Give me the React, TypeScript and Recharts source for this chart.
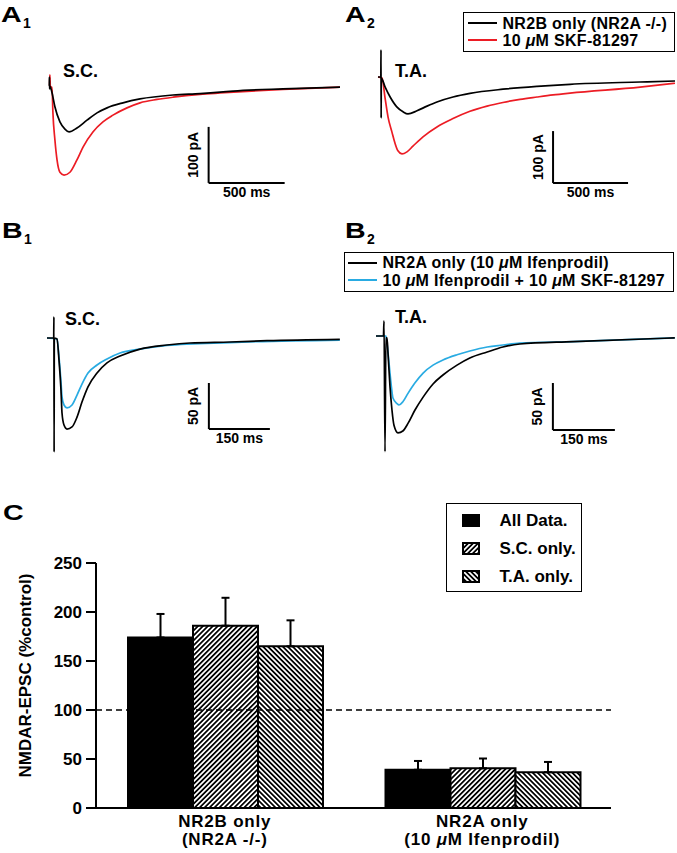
import React from 'react';
import { LineChart, Line, XAxis, YAxis, ReferenceLine, Legend, BarChart, Bar, ErrorBar } from 'recharts';

const FONT = '"Liberation Sans", Arial, Helvetica, sans-serif';
const RED = '#ec1c24';
const BLUE = '#29abe2';

// ---- traces: [time (ms), current (pA)] ----
const a1Black = [[0, 0], [2, 0], [3, 16], [4, -5], [6, 0], [20, -12], [39, -37], [72, -64], [105, -77], [132, -82], [184, -75], [250, -61], [316, -48], [382, -39], [487, -30], [599, -23], [816, -16], [993, -13.5], [1125, -11], [1211, -9], [1539, -5], [1914, -2]];
const a1Red = [[0, 0], [4, 0], [6, 20], [9, -2], [20, -2], [26, -48], [39, -96], [53, -132], [72, -154], [99, -159], [138, -154], [184, -132], [224, -109], [289, -82], [355, -64], [421, -52], [513, -39], [599, -30], [711, -24], [816, -20], [993, -15], [1125, -12.5], [1539, -6], [1914, -2]];

const a2Black = [[0, 0], [19, 0], [20, 52], [21, -79], [22, -2], [47, -19], [80, -38], [127, -58], [167, -67], [200, -71], [260, -65], [327, -56], [393, -48], [500, -38.5], [613, -31.5], [833, -23.5], [1060, -18], [1280, -14], [1747, -9.6], [1980, -7.7]];
const a2Red = [[0, 0], [27, -2], [47, -40], [67, -77], [93, -106], [113, -127], [133, -142], [160, -148], [193, -144], [233, -133], [300, -115], [393, -96], [500, -80], [613, -66], [727, -56], [833, -49], [947, -43], [1060, -38.5], [1167, -34.5], [1280, -31], [1747, -19.5], [1980, -12]];

const b1Black = [[0, 0], [16.5, 0], [17, 23], [17.5, -124], [18, 0], [24.6, -1], [29.5, -24], [34.4, -56.5], [36.9, -81.5], [41.8, -94.6], [49.2, -99], [61.5, -96.7], [73.8, -86], [86, -69.6], [100.8, -53], [123, -38], [147.5, -27], [179.5, -19.6], [228.7, -12], [295, -7.6], [351.6, -5.4], [450, -4.3], [541, -2.9], [720, -1.4]];
const b1Blue = [[0, 0], [24.6, -1], [29.5, -20.7], [34.4, -47.8], [36.9, -64], [41.8, -72.8], [49.2, -76], [61.5, -72.8], [73.8, -62], [86, -50], [100.8, -38], [123, -29.3], [147.5, -22.8], [179.5, -16.3], [228.7, -12], [295, -8], [450, -4.9], [720, -2.2]];

const b2Black = [[0, 0], [18, 0], [19.4, 16], [21.8, -123], [24, -2], [26.6, -2], [29, -18], [33.9, -54], [38.7, -79], [43.5, -95], [53.2, -103], [65, -101], [77.4, -93], [94, -79], [114, -65], [138, -51], [162, -41.5], [196, -31], [227, -23.4], [269, -17], [307, -11.7], [348, -8.5], [477, -6], [723, -2]];
const b2Blue = [[0, 0], [24, 0], [26.6, -7.5], [31.5, -28.7], [36.3, -50], [41, -66], [50.8, -72], [55.6, -73.4], [65, -70], [77.4, -61], [94, -50], [114, -39.4], [138, -31], [162, -25.5], [196, -20], [227, -16], [269, -11.7], [307, -9.6], [348, -7.5], [477, -5.9], [723, -2]];

const aNames = ['NR2B only (NR2A -/-)', '10 μM SKF-81297'];
const bNames = ['NR2A only (10 μM Ifenprodil)', '10 μM Ifenprodil + 10 μM SKF-81297'];

// ---- panel C: % of control, mean and SEM ----
const groupNames = ['NR2B only', 'NR2A only'];
const groupSub = ['(NR2A -/-)', '(10 μM Ifenprodil)'];
const allData = [174, 39];
const allSem = [24, 9];
const scData = [186, 40.5];
const scSem = [28.5, 10];
const taData = [165, 36.5];
const taSem = [26.5, 10.5];
const seriesNames = ['All Data.', 'S.C. only.', 'T.A. only.'];
const yTicks = [0, 50, 100, 150, 200, 250];

const barRows = groupNames.map((g, k) => ({
  group: g,
  all: allData[k],
  allErr: [0, allSem[k]],
  sc: scData[k],
  scErr: [0, scSem[k]],
  ta: taData[k],
  taErr: [0, taSem[k]],
}));

const rows = (pts: number[][]) => pts.map(([t, i]) => ({ t, i }));

function withMu(s: string) {
  const parts = s.split('μ');
  return parts.flatMap((p, k) => (k === 0 ? [p] : [<i key={k}>μ</i>, p]));
}

function svgMu(s: string) {
  const parts = s.split('μ');
  return parts.flatMap((p, k) => (k === 0 ? [p] : [<tspan key={k} fontStyle="italic">μ</tspan>, p]));
}

const vScaleLabel = (text: string) => (props: any) => {
  const vb = props.viewBox ?? {};
  const x = (vb.x ?? 0) - 10.5;
  const y = (vb.y ?? 0) + (vb.height ?? 0) / 2;
  return (
    <text x={x} y={y} transform={`rotate(-90 ${x} ${y})`} textAnchor="middle" fontFamily={FONT} fontSize={14} fontWeight="bold" fill="#000">
      {text}
    </text>
  );
};

const hScaleLabel = (text: string) => (props: any) => {
  const vb = props.viewBox ?? {};
  const x = (vb.x ?? 0) + (vb.width ?? 0) / 2;
  const y = (vb.y ?? 0) + 14;
  return (
    <text x={x} y={y} textAnchor="middle" fontFamily={FONT} fontSize={14} fontWeight="bold" fill="#000">
      {text}
    </text>
  );
};

const traceLegend = (rowH: number, pad: string) => (props: any) => {
  const items = [...(props.payload ?? [])].sort((a: any, b: any) => (a.color === '#000' ? 0 : 1) - (b.color === '#000' ? 0 : 1));
  return (
    <div style={{ width: '100%', height: '100%', boxSizing: 'border-box', border: '1.5px solid #000', padding: pad, background: '#fff', fontFamily: FONT, fontSize: 16, fontWeight: 'bold', color: '#000' }}>
      {items.map((it: any) => (
        <div key={it.value} style={{ display: 'flex', alignItems: 'center', height: rowH, lineHeight: `${rowH}px`, whiteSpace: 'nowrap', letterSpacing: 0.3 }}>
          <span style={{ display: 'inline-block', width: 29, height: 2, background: it.color, marginRight: 6 }} />
          <span>{withMu(String(it.value))}</span>
        </div>
      ))}
    </div>
  );
};

type Trace = { name: string; color: string; points: number[][] };
type PanelProps = {
  left: number;
  top: number;
  width: number;
  height: number;
  xDomain: [number, number];
  yDomain: [number, number];
  traces: Trace[];
  bar: { t: number; i: number; ms: number; pA: number };
  legend?: { left: number; top: number; width: number; height: number; rowH: number; pad: string };
};

function TracePanel({ left, top, width, height, xDomain, yDomain, traces, bar, legend }: PanelProps) {
  return (
    <div style={{ position: 'absolute', left, top }}>
      <LineChart width={width} height={height} margin={{ top: 0, right: 0, bottom: 0, left: 0 }}>
        <XAxis type="number" dataKey="t" domain={xDomain} hide allowDataOverflow />
        <YAxis type="number" domain={yDomain} hide allowDataOverflow />
        {traces.map((tr) => (
          <Line
            key={tr.color}
            data={rows(tr.points)}
            dataKey="i"
            name={tr.name}
            type="monotone"
            stroke={tr.color}
            strokeWidth={1.7}
            dot={false}
            activeDot={false}
            isAnimationActive={false}
          />
        ))}
        <ReferenceLine
          segment={[{ x: bar.t, y: bar.i + bar.pA }, { x: bar.t, y: bar.i }]}
          stroke="#000"
          strokeWidth={2}
          label={vScaleLabel(`${bar.pA} pA`)}
        />
        <ReferenceLine
          segment={[{ x: bar.t, y: bar.i }, { x: bar.t + bar.ms, y: bar.i }]}
          stroke="#000"
          strokeWidth={2}
          label={hScaleLabel(`${bar.ms} ms`)}
        />
        {legend && (
          <Legend
            layout="horizontal"
            verticalAlign="middle"
            align="center"
            wrapperStyle={{ left: legend.left, top: legend.top, width: legend.width, height: legend.height }}
            content={traceLegend(legend.rowH, legend.pad)}
          />
        )}
      </LineChart>
    </div>
  );
}

function GroupTick(props: any) {
  const { x, y, payload } = props;
  const k = typeof payload?.index === 'number' ? payload.index : groupNames.indexOf(payload?.value);
  return (
    <text x={x} y={y} textAnchor="middle" fontFamily={FONT} fontSize={17} fontWeight="bold" fill="#000" letterSpacing={0.8}>
      <tspan x={x} dy={19}>{groupNames[k]}</tspan>
      <tspan x={x} dy={18}>{svgMu(groupSub[k])}</tspan>
    </text>
  );
}

const yLabel = (props: any) => {
  const vb = props.viewBox ?? {};
  const x = (vb.x ?? 0) + 31;
  const y = (vb.y ?? 0) + (vb.height ?? 0) / 2 - 10;
  return (
    <text x={x} y={y} transform={`rotate(-90 ${x} ${y})`} textAnchor="middle" fontFamily={FONT} fontSize={17} fontWeight="bold" fill="#000">
      NMDAR-EPSC (%control)
    </text>
  );
};

const barLegend = (props: any) => (
  <div style={{ width: '100%', height: '100%', boxSizing: 'border-box', border: '1.5px solid #000', padding: '2.5px 0 0 14.5px', background: '#fff', fontFamily: FONT, fontSize: 17, fontWeight: 'bold', color: '#000' }}>
    {(props.payload ?? []).map((e: any) => (
      <div key={e.value} style={{ display: 'flex', alignItems: 'center', height: 28, lineHeight: '28px', whiteSpace: 'nowrap' }}>
        <svg width={18} height={13} style={{ marginRight: 20, display: 'block' }}>
          <rect x={1} y={1} width={16} height={11} fill={e.color} stroke="#000" strokeWidth={2} />
        </svg>
        <span>{e.value}</span>
      </div>
    ))}
  </div>
);

function PanelLetter({ x, y, letter, sub }: { x: number; y: number; letter: string; sub: string }) {
  return (
    <g fontFamily={FONT} fontWeight="bold" fill="#000">
      <text transform={`translate(${x} ${y}) scale(1.3 1)`} fontSize={22}>{letter}</text>
      {sub && <text x={x + 22} y={y + 6} fontSize={14}>{sub}</text>}
    </g>
  );
}

export default function App() {
  return (
    <div style={{ position: 'absolute', left: 0, top: 0, width: 677, height: 853, background: '#fff', overflow: 'hidden' }}>
      <TracePanel
        left={40} top={0} width={300} height={210}
        xDomain={[-59, 1914]} yDomain={[-221.4, 153.6]}
        traces={[{ name: aNames[1], color: RED, points: a1Red }, { name: aNames[0], color: '#000', points: a1Black }]}
        bar={{ t: 1050, i: -173, ms: 500, pA: 100 }}
      />
      <TracePanel
        left={340} top={0} width={337} height={210}
        xDomain={[-253.3, 1993.3]} yDomain={[-255.8, 148.1]}
        traces={[{ name: aNames[1], color: RED, points: a2Red }, { name: aNames[0], color: '#000', points: a2Black }]}
        bar={{ t: 1167, i: -204, ms: 500, pA: 100 }}
        legend={{ left: 123, top: 12, width: 212, height: 40, rowH: 17, pad: '1.5px 0 0 3.5px' }}
      />
      <TracePanel
        left={40} top={220} width={300} height={240}
        xDomain={[-17.2, 720.4]} yDomain={[-132.6, 128.3]}
        traces={[{ name: bNames[1], color: BLUE, points: b1Blue }, { name: bNames[0], color: '#000', points: b1Black }]}
        bar={{ t: 398, i: -98.9, ms: 150, pA: 50 }}
      />
      <TracePanel
        left={340} top={220} width={337} height={240}
        xDomain={[-87.1, 728.3]} yDomain={[-131.9, 123.4]}
        traces={[{ name: bNames[1], color: BLUE, points: b2Blue }, { name: bNames[0], color: '#000', points: b2Black }]}
        bar={{ t: 428, i: -100, ms: 150, pA: 50 }}
        legend={{ left: 4, top: 32, width: 330, height: 40, rowH: 17.5, pad: '1px 0 0 2.5px' }}
      />

      <div style={{ position: 'absolute', left: 0, top: 490 }}>
        <BarChart width={677} height={363} data={barRows} margin={{ top: 73, right: 66, bottom: 0, left: 0 }} barCategoryGap={32} barGap={0}>
          <defs>
            <pattern id="hatchSC" patternUnits="userSpaceOnUse" width={3.5} height={3.5} patternTransform="rotate(45)">
              <rect width={3.5} height={3.5} fill="#fff" />
              <line x1={1.75} y1={0} x2={1.75} y2={3.5} stroke="#000" strokeWidth={1.8} />
            </pattern>
            <pattern id="hatchTA" patternUnits="userSpaceOnUse" width={3.5} height={3.5} patternTransform="rotate(-45)">
              <rect width={3.5} height={3.5} fill="#fff" />
              <line x1={1.75} y1={0} x2={1.75} y2={3.5} stroke="#000" strokeWidth={1.8} />
            </pattern>
          </defs>
          <XAxis
            dataKey="group"
            height={45}
            interval={0}
            tickLine={false}
            tickSize={0}
            tickMargin={0}
            axisLine={{ stroke: '#000', strokeWidth: 2 }}
            tick={<GroupTick />}
          />
          <YAxis
            width={96}
            domain={[0, 250]}
            ticks={yTicks}
            tickSize={10}
            tickMargin={4}
            axisLine={{ stroke: '#000', strokeWidth: 2 }}
            tickLine={{ stroke: '#000', strokeWidth: 2 }}
            tick={{ fill: '#000', fontSize: 17, fontWeight: 'bold', fontFamily: FONT }}
            label={yLabel}
          />
          <Bar dataKey="all" name={seriesNames[0]} fill="#000" stroke="#000" strokeWidth={2} isAnimationActive={false}>
            <ErrorBar dataKey="allErr" direction="y" width={4} stroke="#000" strokeWidth={2} isAnimationActive={false} />
          </Bar>
          <Bar dataKey="sc" name={seriesNames[1]} fill="url(#hatchSC)" stroke="#000" strokeWidth={2} isAnimationActive={false}>
            <ErrorBar dataKey="scErr" direction="y" width={4} stroke="#000" strokeWidth={2} isAnimationActive={false} />
          </Bar>
          <Bar dataKey="ta" name={seriesNames[2]} fill="url(#hatchTA)" stroke="#000" strokeWidth={2} isAnimationActive={false}>
            <ErrorBar dataKey="taErr" direction="y" width={4} stroke="#000" strokeWidth={2} isAnimationActive={false} />
          </Bar>
          <ReferenceLine y={100} stroke="#000" strokeWidth={1.5} strokeDasharray="6 4" />
          <Legend
            layout="horizontal"
            verticalAlign="middle"
            align="center"
            wrapperStyle={{ left: 446, top: 13, width: 136, height: 89 }}
            content={barLegend}
          />
        </BarChart>
      </div>

      <svg width={677} height={853} style={{ position: 'absolute', left: 0, top: 0, pointerEvents: 'none' }}>
        <PanelLetter x={1} y={22} letter="A" sub="1" />
        <PanelLetter x={345} y={22} letter="A" sub="2" />
        <PanelLetter x={2} y={238} letter="B" sub="1" />
        <PanelLetter x={345} y={238} letter="B" sub="2" />
        <PanelLetter x={3} y={520} letter="C" sub="" />
        <g fontFamily={FONT} fontWeight="bold" fontSize={18} fill="#000">
          <text x={63} y={77}>S.C.</text>
          <text x={395} y={77}>T.A.</text>
          <text x={65} y={325}>S.C.</text>
          <text x={395} y={323}>T.A.</text>
        </g>
      </svg>
    </div>
  );
}
